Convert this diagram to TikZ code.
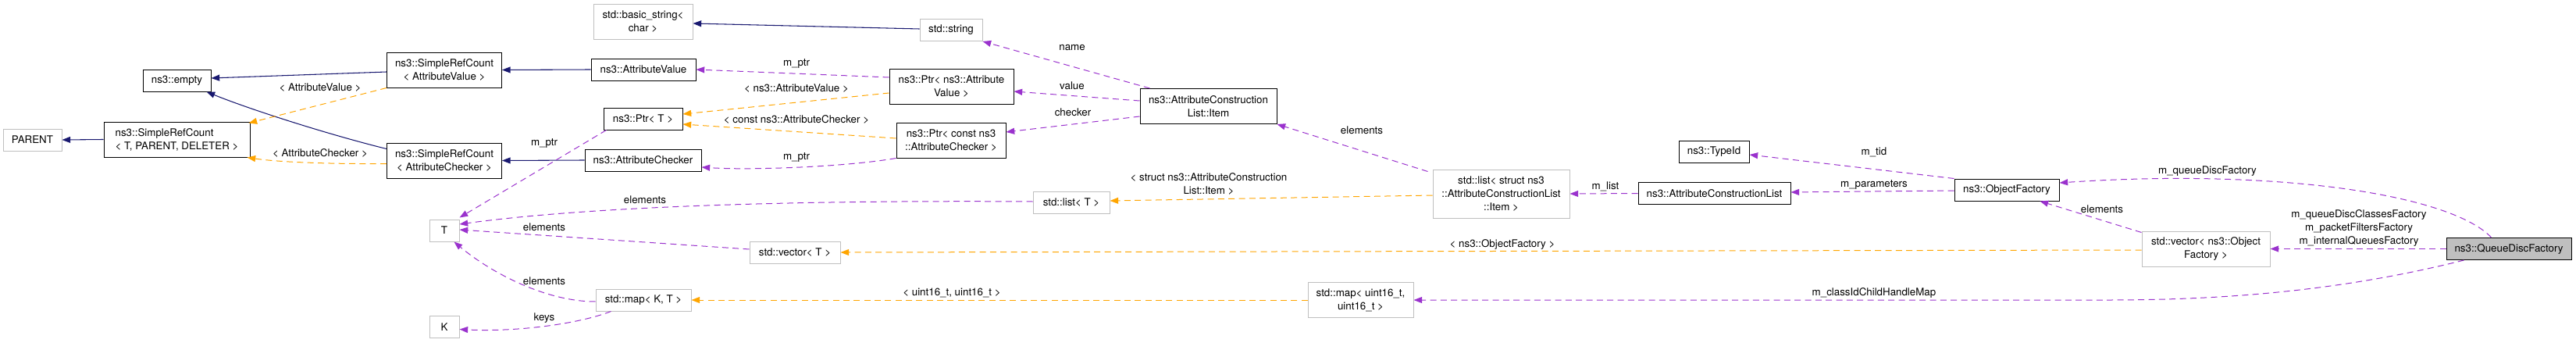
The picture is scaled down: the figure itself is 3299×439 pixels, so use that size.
\documentclass[tikz,border=0pt]{standalone}
\usepackage{fontspec}
\setmainfont{TeX Gyre Heros}
\usetikzlibrary{arrows.meta,calc}

\definecolor{inhcol}{HTML}{191970}
\definecolor{usecol}{HTML}{9A32CD}
\definecolor{tplcol}{HTML}{FFA500}
\definecolor{extcol}{HTML}{BFBFBF}

\tikzset{
  wd/.style={minimum width=#1*0.75pt},
  ht/.style={minimum height=#1*0.75pt},
  box/.style={inner sep=0pt, align=center, ht=28, line width=0.75pt,
    font=\fontsize{10}{12.75}\selectfont},
  cls/.style={box, draw=black},
  ext/.style={box, draw=extcol},
  elabel/.style={inner sep=0pt, align=center, font=\fontsize{10}{12.75}\selectfont},
  tip/.style={-{Triangle[length=8pt,width=6pt]}},
  inh/.style={tip, draw=inhcol, line width=0.8pt},
  use/.style={tip, draw=usecol, line width=0.75pt, dash pattern=on 6pt off 4pt},
  tpl/.style={tip, draw=tplcol, line width=0.75pt, dash pattern=on 6pt off 4pt},
}

\begin{document}
\begin{tikzpicture}[x=0.75pt, y=-0.75pt]
\useasboundingbox (0,0) rectangle (3299,439);

% classes
\node[ext, wd=75] (parent) at (41.5,179) {PARENT};
\node[cls, wd=187, ht=45, align=left] (srcTPD) at (226.5,178.5) {ns3::SimpleRefCount\\< T, PARENT, DELETER >};
\node[cls, wd=87] (empty) at (226.5,103) {ns3::empty};
\node[cls, wd=147, ht=45] (srcAV) at (569,89.5) {ns3::SimpleRefCount\\< AttributeValue >};
\node[cls, wd=147, ht=45] (srcAC) at (569,205.5) {ns3::SimpleRefCount\\< AttributeChecker >};
\node[ext, wd=127, ht=45] (basicStr) at (823.5,28) {std::basic\_string<\\char >};
\node[cls, wd=134] (attrValue) at (824,89) {ns3::AttributeValue};
\node[cls, wd=101] (ptrT) at (823.5,152) {ns3::Ptr< T >};
\node[cls, wd=149] (attrChecker) at (823.5,205) {ns3::AttributeChecker};
\node[ext, wd=38] (T) at (569,295) {T};
\node[ext, wd=38] (K) at (569,418.5) {K};
\node[ext, wd=116] (vecT) at (1018,323) {std::vector< T >};
\node[ext, wd=122] (mapKT) at (824,384) {std::map< K, T >};
\node[ext, wd=80] (stdStr) at (1218,38.5) {std::string};
\node[cls, wd=159, ht=45] (ptrAV) at (1218.5,110.5) {ns3::Ptr< ns3::Attribute\\Value >};
\node[cls, wd=140, ht=45] (ptrAC) at (1218,179.5) {ns3::Ptr< const ns3\\::AttributeChecker >};
\node[cls, wd=175, ht=45] (item) at (1547.5,136) {ns3::AttributeConstruction\\List::Item};
\node[ext, wd=98] (listT) at (1372,259) {std::list< T >};
\node[ext, wd=175, ht=62] (listItem) at (1922.5,248) {std::list< struct ns3\\::AttributeConstructionList\\::Item >};
\node[cls, wd=195] (acl) at (2195.5,247.5) {ns3::AttributeConstructionList};
\node[cls, wd=90] (typeId) at (2195,194) {ns3::TypeId};
\node[ext, wd=135, ht=45] (mapU16) at (1742.5,384) {std::map< uint16\_t,\\uint16\_t >};
\node[cls, wd=134] (objFactory) at (2570,243) {ns3::ObjectFactory};
\node[ext, wd=164, ht=45] (vecOF) at (2825,318.5) {std::vector< ns3::Object\\Factory >};
\node[cls, fill=extcol, wd=160] (qdf) at (3213,318.5) {ns3::QueueDiscFactory};

% inheritance
\draw[inh] (srcTPD.west) -- (parent.east);
\draw[inh] ($(srcAV.west)+(0,2.5)$) -- ($(empty.east)+(0,-3)$);
\draw[inh] ($(srcAC.west)+(0,-15)$) .. controls (420,172) and (320,140) .. ($(empty.south east)+(-6,0)$);
\draw[inh] (attrValue.west) -- (srcAV.east);
\draw[inh] (attrChecker.west) -- (srcAC.east);
\draw[inh] ($(stdStr.west)+(0,-1.5)$) -- ($(basicStr.east)+(0,2)$);

% template instances
\draw[tpl] (srcAV.south west) -- ($(srcTPD.north east)+(-2,2)$);
\draw[tpl] ($(srcAC.west)+(0,4)$) .. controls (430,210) and (360,208) .. ($(srcTPD.south east)+(-4,0)$);
\draw[tpl] ($(ptrAV.west)+(0,8.5)$) -- ($(ptrT.east)+(0,-6)$);
\draw[tpl] ($(ptrAC.west)+(0,-2.5)$) -- ($(ptrT.east)+(0,7)$);
\draw[tpl] ($(listItem.west)+(0,2)$) -- ($(listT.east)+(0,-2)$);
\draw[tpl] ($(vecOF.west)+(0,1.5)$) -- (vecT.east);
\draw[tpl] (mapU16.west) -- (mapKT.east);

% members
\draw[use] ($(ptrAV.west)+(0,-11.5)$) -- (attrValue.east);
\draw[use] (ptrAC.south west) .. controls (1080,214) and (960,218) .. ($(attrChecker.east)+(0,9)$);
\draw[use] ($(ptrT.south west)+(4,0)$) -- ($(T.north east)+(0,-2)$);
\draw[use] ($(listT.west)+(0,-1)$) .. controls (1000,256) and (750,265) .. ($(T.east)+(0,-8)$);
\draw[use] ($(vecT.west)+(0,-4)$) -- ($(T.east)+(0,-1)$);
\draw[use] ($(mapKT.west)+(0,2)$) .. controls (700,386) and (630,350) .. ($(T.south east)+(-7,0)$);
\draw[use] ($(mapKT.south west)+(20,0)$) .. controls (740,415) and (660,425) .. ($(K.east)+(0,3)$);
\draw[use] ($(item.north west)+(13,0)$) -- (stdStr.south east);
\draw[use] ($(item.west)+(0,-7)$) -- ($(ptrAV.east)+(0,6.5)$);
\draw[use] ($(item.west)+(0,13)$) -- ($(ptrAC.east)+(0,-10.5)$);
\draw[use] ($(listItem.north west)+(-6,3)$) -- (item.south east);
\draw[use] (acl.west) -- (listItem.east);
\draw[use] (objFactory.north west) -- ($(typeId.east)+(0,4)$);
\draw[use] ($(objFactory.west)+(0,1)$) -- ($(acl.east)+(0,-1.5)$);
\draw[use] ($(vecOF.north west)+(0,2)$) -- ($(objFactory.south east)+(-25,0)$);
\draw[use] ($(qdf.north west)+(58,0)$) .. controls (3140,250) and (2920,215) .. ($(objFactory.east)+(0,-9)$);
\draw[use] (qdf.west) -- (vecOF.east);
\draw[use] ($(qdf.south west)+(23,0)$) .. controls (3000,372) and (2850,384) .. (2700,384) -- (mapU16.east);

% labels
\node[elabel] (lAV) at (410,112) {< AttributeValue >};
\node[elabel] (lAC) at (410,196) {< AttributeChecker >};
\node[elabel] (lPtrV) at (1020,81) {m\_ptr};
\node[elabel] (lTplV) at (1020,113) {< ns3::AttributeValue >};
\node[elabel] (lTplC) at (1020,153) {< const ns3::AttributeChecker >};
\node[elabel] (lPtrC) at (1020,201) {m\_ptr};
\node[elabel] (lPtrT) at (697,183) {m\_ptr};
\node[elabel] (lElList) at (826,256) {elements};
\node[elabel] (lElVec) at (697,291) {elements};
\node[elabel] (lElMap) at (697,360) {elements};
\node[elabel] (lKeys) at (697,407) {keys};
\node[elabel] (lName) at (1373,61) {name};
\node[elabel] (lValue) at (1373,110) {value};
\node[elabel] (lChecker) at (1374,144) {checker};
\node[elabel] (lTplItem) at (1548,235.5) {< struct ns3::AttributeConstruction\\List::Item >};
\node[elabel] (lU16) at (1219,375) {< uint16\_t, uint16\_t >};
\node[elabel] (lElItem) at (1744,167) {elements};
\node[elabel] (lList) at (2056,239) {m\_list};
\node[elabel] (lTplOF) at (1924,313) {< ns3::ObjectFactory >};
\node[elabel] (lTid) at (2400,195) {m\_tid};
\node[elabel] (lParams) at (2400,236) {m\_parameters};
\node[elabel] (lMap) at (2400,375) {m\_classIdChildHandleMap};
\node[elabel] (lElOF) at (2692,268) {elements};
\node[elabel] (lQdf) at (2827,219) {m\_queueDiscFactory};
\node[elabel] (lFact) at (3021,292) {m\_queueDiscClassesFactory\\m\_packetFiltersFactory\\m\_internalQueuesFactory};
\end{tikzpicture}
\end{document}
